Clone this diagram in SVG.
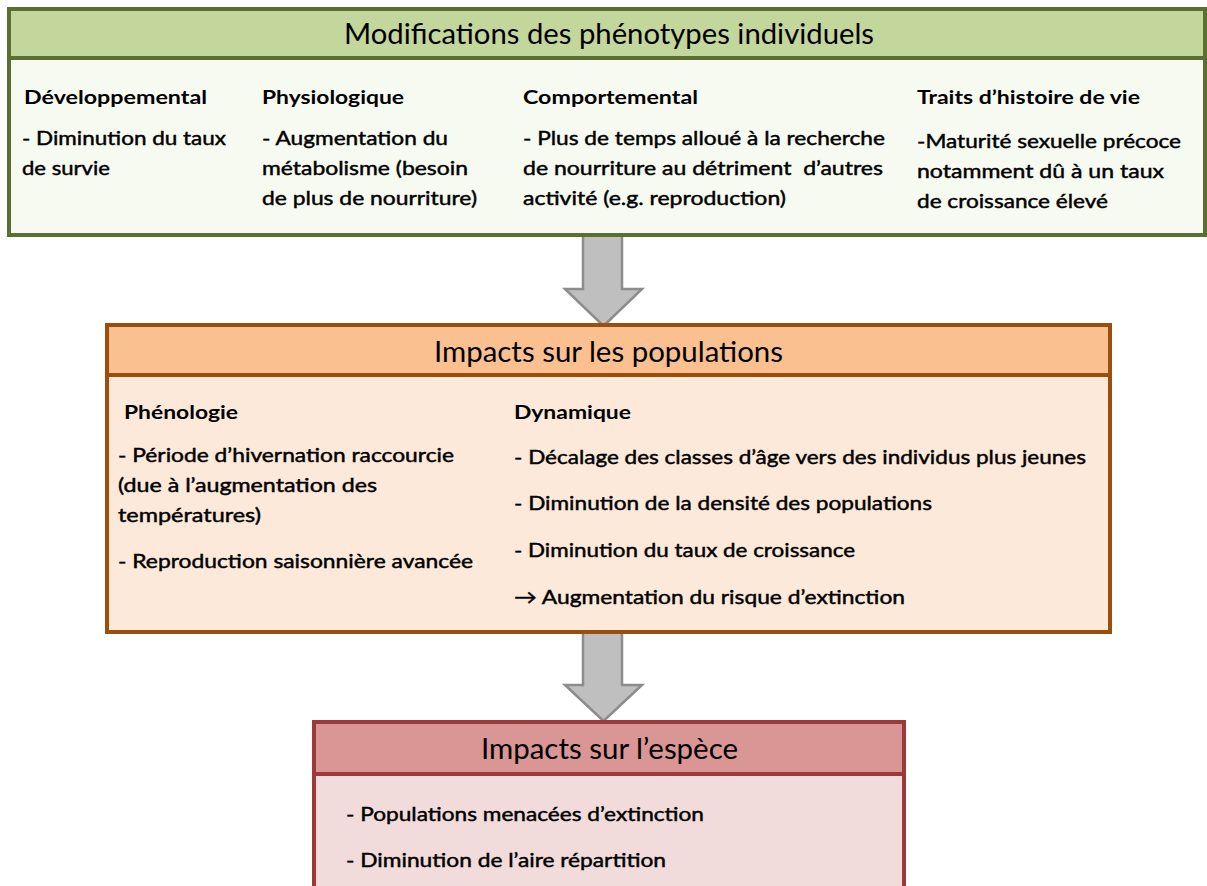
<svg xmlns="http://www.w3.org/2000/svg" width="1207" height="886" viewBox="0 0 1207 886">
<style>
text{font-family:Lato,"Open Sans","Liberation Sans",sans-serif;fill:#000;}
.hd{font-size:28px;text-anchor:middle;}
.h{font-size:19.5px;font-weight:bold;}
.t{font-size:19.5px;stroke:#000;stroke-width:0.45;}
.arrow{fill:#bfbfbf;stroke:#8c8c8c;stroke-width:2.5;stroke-linejoin:miter;}
</style>
<rect width="1207" height="886" fill="#ffffff"/>
<g id="connectors">
<polygon class="arrow" points="583,233 622,233 622,289 642,289 603.5,326 565,289 583,289"/>
<polygon class="arrow" points="583,630 622,630 622,685 642,685 603.5,721 565,685 583,685"/>
</g>
<g id="box-phenotypes">
<rect x="9" y="9" width="1196" height="226" fill="#f7faf1" stroke="#5a7030" stroke-width="4"/>
<rect x="9" y="9" width="1196" height="49" fill="#c3d69b" stroke="#5a7030" stroke-width="4"/>
<text class="hd" x="609" y="44" textLength="530" lengthAdjust="spacingAndGlyphs">Modifications des phénotypes individuels</text>
<text class="h" x="24" y="104" textLength="183" lengthAdjust="spacingAndGlyphs">Développemental</text>
<text class="h" x="262" y="104" textLength="142" lengthAdjust="spacingAndGlyphs">Physiologique</text>
<text class="h" x="523" y="104" textLength="175" lengthAdjust="spacingAndGlyphs">Comportemental</text>
<text class="h" x="917" y="104" textLength="223" lengthAdjust="spacingAndGlyphs">Traits d’histoire de vie</text>
<text class="t" x="22" y="145" textLength="204" lengthAdjust="spacingAndGlyphs">- Diminution du taux</text>
<text class="t" x="22" y="175" textLength="88" lengthAdjust="spacingAndGlyphs">de survie</text>
<text class="t" x="262" y="145" textLength="186" lengthAdjust="spacingAndGlyphs">- Augmentation du</text>
<text class="t" x="262" y="175" textLength="206" lengthAdjust="spacingAndGlyphs">métabolisme (besoin</text>
<text class="t" x="262" y="205" textLength="215" lengthAdjust="spacingAndGlyphs">de plus de nourriture)</text>
<text class="t" x="523" y="145" textLength="362" lengthAdjust="spacingAndGlyphs">- Plus de temps alloué à la recherche</text>
<text class="t" x="523" y="175" textLength="360" lengthAdjust="spacingAndGlyphs" xml:space="preserve">de nourriture au détriment  d’autres</text>
<text class="t" x="523" y="205" textLength="263" lengthAdjust="spacingAndGlyphs">activité (e.g. reproduction)</text>
<text class="t" x="917" y="148" textLength="264" lengthAdjust="spacingAndGlyphs">-Maturité sexuelle précoce</text>
<text class="t" x="917" y="178" textLength="247" lengthAdjust="spacingAndGlyphs">notamment dû à un taux</text>
<text class="t" x="917" y="208" textLength="191" lengthAdjust="spacingAndGlyphs">de croissance élevé</text>
</g>
<g id="box-populations">
<rect x="107" y="325" width="1003" height="307" fill="#fde9d9" stroke="#9c4f0c" stroke-width="4"/>
<rect x="107" y="325" width="1003" height="50" fill="#fac090" stroke="#9c4f0c" stroke-width="4"/>
<text class="hd" x="608.5" y="362" textLength="349" lengthAdjust="spacingAndGlyphs">Impacts sur les populations</text>
<text class="h" x="124" y="419" textLength="114" lengthAdjust="spacingAndGlyphs">Phénologie</text>
<text class="h" x="514" y="419" textLength="117" lengthAdjust="spacingAndGlyphs">Dynamique</text>
<text class="t" x="118" y="462" textLength="336" lengthAdjust="spacingAndGlyphs">- Période d’hivernation raccourcie</text>
<text class="t" x="118" y="492" textLength="259" lengthAdjust="spacingAndGlyphs">(due à l’augmentation des</text>
<text class="t" x="118" y="522" textLength="143" lengthAdjust="spacingAndGlyphs">températures)</text>
<text class="t" x="118" y="568" textLength="355" lengthAdjust="spacingAndGlyphs">- Reproduction saisonnière avancée</text>
<text class="t" x="514" y="464" textLength="572" lengthAdjust="spacingAndGlyphs">- Décalage des classes d’âge vers des individus plus jeunes</text>
<text class="t" x="514" y="510" textLength="418" lengthAdjust="spacingAndGlyphs">- Diminution de la densité des populations</text>
<text class="t" x="514" y="557" textLength="341" lengthAdjust="spacingAndGlyphs">- Diminution du taux de croissance</text>
<text class="t" x="514" y="604" textLength="391" lengthAdjust="spacingAndGlyphs">→ Augmentation du risque d’extinction</text>
</g>
<g id="box-espece">
<rect x="314" y="722" width="590" height="190" fill="#f2dcdb" stroke="#9b3a38" stroke-width="4"/>
<rect x="314" y="722" width="590" height="52" fill="#d99694" stroke="#9b3a38" stroke-width="4"/>
<text class="hd" x="609.5" y="759" textLength="257" lengthAdjust="spacingAndGlyphs">Impacts sur l’espèce</text>
<text class="t" x="346" y="821" textLength="358" lengthAdjust="spacingAndGlyphs">- Populations menacées d’extinction</text>
<text class="t" x="346" y="867" textLength="320" lengthAdjust="spacingAndGlyphs">- Diminution de l’aire répartition</text>
</g>
</svg>
